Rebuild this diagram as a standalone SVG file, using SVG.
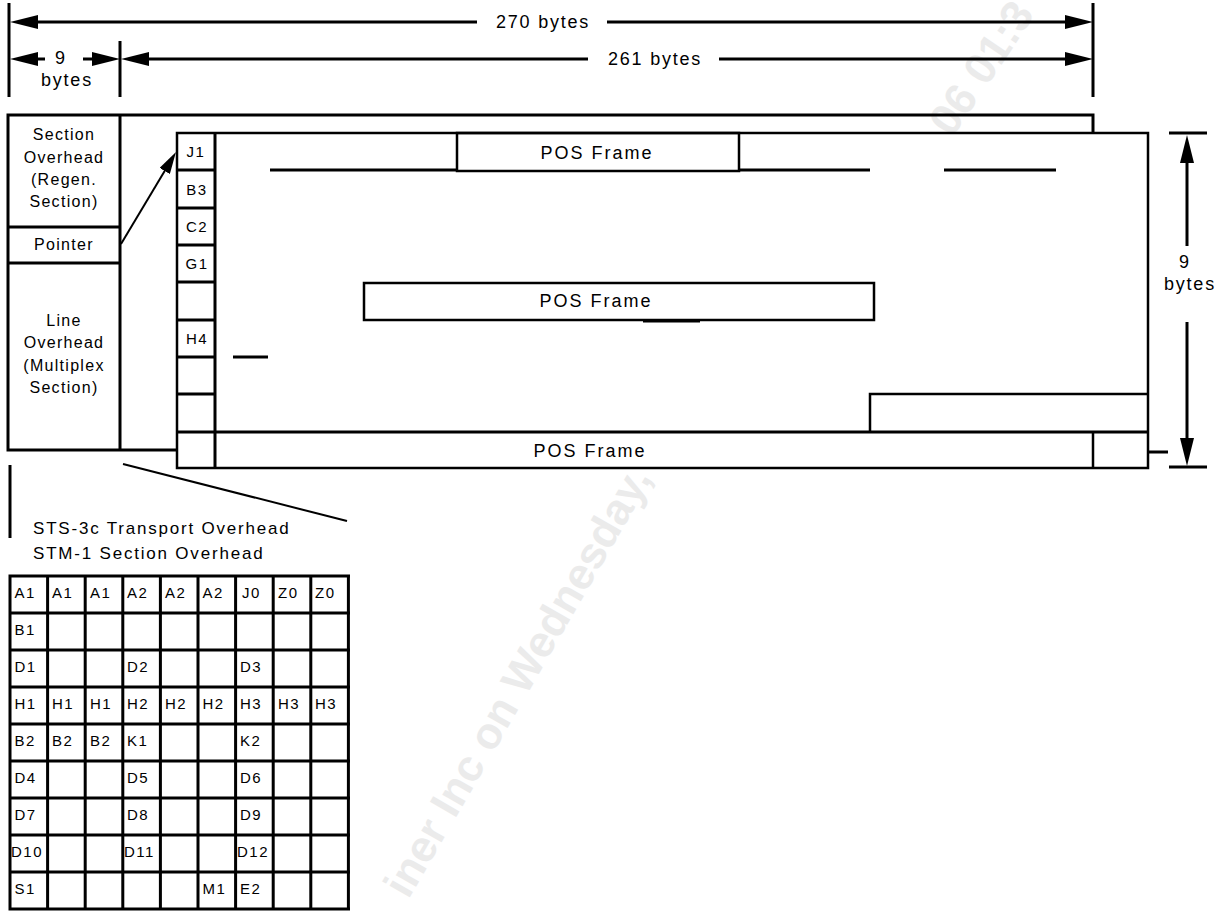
<svg xmlns="http://www.w3.org/2000/svg" width="1227" height="911" viewBox="0 0 1227 911">
<style>
text{font-family:"Liberation Sans",Arial,sans-serif;fill:#000}
.dim{font-size:18px;letter-spacing:1.75px;text-anchor:middle}
.lbl{font-size:16px;letter-spacing:1.3px;text-anchor:middle}
.pos{font-size:18px;letter-spacing:2px;text-anchor:middle}
.cell{font-size:15px;letter-spacing:1.5px}
.jc{font-size:15px;letter-spacing:1.5px;text-anchor:middle}
.cap{font-size:17px;letter-spacing:1.8px}
.wm{font-size:44px;font-weight:bold;fill:#ebebeb}
.thk{stroke:#000;stroke-width:3;fill:none}
.thn{stroke:#000;stroke-width:2.5;fill:none}
.box{stroke:#000;stroke-width:2.5;fill:#fff}
.arr{stroke:#000;stroke-width:3;fill:none;marker-end:url(#ah)}
.arl{stroke:#000;stroke-width:3;fill:none;marker-start:url(#ah)}
</style>
<defs>
<marker id="ah" markerUnits="userSpaceOnUse" markerWidth="28" markerHeight="14" refX="18" refY="7" orient="auto-start-reverse" viewBox="0 0 28 14"><path d="M0,0 L28,7 L0,14 z" fill="#000"/></marker>
<marker id="ahs" markerUnits="userSpaceOnUse" markerWidth="22" markerHeight="12" refX="16" refY="6" orient="auto" viewBox="0 0 22 12"><path d="M0,0 L22,6 L0,12 z" fill="#000"/></marker>
</defs>
<rect width="1227" height="911" fill="#fff"/>
<g id="watermark">
<text class="wm" x="652" y="478" text-anchor="end" transform="rotate(-60 652 478)">iner Inc on Wednesday,</text>
<text class="wm" x="952" y="138" transform="rotate(-56 952 138)">06 01:3</text>
</g>
<g id="dim-270">
<path class="thk" d="M9,3 V97 M1093,3 V97"/>
<path class="arl" d="M20,22 H477"/>
<path class="arr" d="M607,22 H1083"/>
<text class="dim" x="543" y="28">270  bytes</text>
</g>
<g id="dim-261">
<path class="thk" d="M120,41 V97"/>
<path class="arl" d="M131,59 H588"/>
<path class="arr" d="M719,59 H1083"/>
<text class="dim" x="655" y="65">261  bytes</text>
</g>
<g id="dim-9">
<path class="arl" d="M20,59 H45"/>
<path class="arr" d="M83,59 H110"/>
<text class="dim" x="61" y="64">9</text>
<text class="dim" x="67" y="86">bytes</text>
</g>
<g id="transport-overhead">
<rect x="8" y="115" width="1085" height="335" class="thk"/>
<path class="thk" d="M120,115 V450 M8,227 H120 M8,263 H120"/>
<text class="lbl" x="64" y="140">Section</text>
<text class="lbl" x="64" y="163">Overhead</text>
<text class="lbl" x="64" y="185">(Regen.</text>
<text class="lbl" x="64" y="207">Section)</text>
<text class="lbl" x="64" y="250">Pointer</text>
<text class="lbl" x="64" y="326">Line</text>
<text class="lbl" x="64" y="348">Overhead</text>
<text class="lbl" x="64" y="371">(Multiplex</text>
<text class="lbl" x="64" y="393">Section)</text>
</g>
<g id="payload-frame">
<rect x="177" y="133" width="971" height="335" class="box"/>
<path class="thk" d="M215,133 V468 M177,170 H215 M177,208 H215 M177,245 H215 M177,282 H215 M177,320 H215 M177,357 H215 M177,394 H215 M177,432 H1148"/>
<text class="jc" x="196" y="157">J1</text>
<text class="jc" x="197" y="195">B3</text>
<text class="jc" x="197" y="232">C2</text>
<text class="jc" x="197" y="269">G1</text>
<text class="jc" x="197" y="344">H4</text>
</g>
<g id="pos-frame-1">
<path class="thk" d="M270,170 H457 M739,170 H870 M944,170 H1056"/>
<rect x="457" y="133" width="282" height="38" class="thn"/>
<text class="pos" x="597" y="159">POS Frame</text>
</g>
<g id="pos-frame-2">
<rect x="364" y="283" width="510" height="37" class="thn"/>
<path class="thk" d="M643,321 H700 M233,357 H268"/>
<text class="pos" x="596" y="307">POS Frame</text>
</g>
<g id="pos-frame-3">
<path class="thn" d="M870,432 V394 H1148 M1093,432 V468"/>
<text class="pos" x="590" y="457">POS Frame</text>
</g>
<g id="dim-rows">
<path class="thk" d="M1169,133 H1207 M1169,467 H1207 M1148,452 H1168"/>
<path class="arl" d="M1187,145 V246"/>
<path class="arr" d="M1187,322 V456"/>
<text class="dim" x="1185" y="268">9</text>
<text class="dim" x="1190" y="290">bytes</text>
</g>
<g id="connectors">
<path d="M121,244 L172.9,157.2" stroke="#000" stroke-width="2" fill="none" marker-end="url(#ahs)"/>
<path d="M123,464 L347,521" stroke="#000" stroke-width="2" fill="none"/>
<path class="thk" d="M10,465 V538"/>
</g>
<g id="caption">
<text class="cap" x="33" y="534">STS-3c Transport Overhead</text>
<text class="cap" x="33" y="559">STM-1 Section Overhead</text>
</g>
<g id="soh-table">
<path class="thk" d="M8.5,576 H350 M8.5,613 H350 M8.5,650 H350 M8.5,687 H350 M8.5,724 H350 M8.5,761 H350 M8.5,798 H350 M8.5,835 H350 M8.5,872 H350 M8.5,909 H350 M10,574.5 V910.5 M47.6,574.5 V910.5 M85.2,574.5 V910.5 M122.8,574.5 V910.5 M160.4,574.5 V910.5 M198,574.5 V910.5 M235.6,574.5 V910.5 M273.2,574.5 V910.5 M310.8,574.5 V910.5 M348.4,574.5 V910.5"/>
<g class="cell">
<text class="cell" x="14.5" y="598">A1</text><text class="cell" x="52" y="598">A1</text><text class="cell" x="90" y="598">A1</text><text class="cell" x="127" y="598">A2</text><text class="cell" x="165" y="598">A2</text><text class="cell" x="202.5" y="598">A2</text><text class="cell" x="242" y="598">J0</text><text class="cell" x="278" y="598">Z0</text><text class="cell" x="315" y="598">Z0</text>
<text class="cell" x="14.5" y="635">B1</text>
<text class="cell" x="14.5" y="672">D1</text><text class="cell" x="127" y="672">D2</text><text class="cell" x="240" y="672">D3</text>
<text class="cell" x="14.5" y="709">H1</text><text class="cell" x="52" y="709">H1</text><text class="cell" x="90" y="709">H1</text><text class="cell" x="127" y="709">H2</text><text class="cell" x="165" y="709">H2</text><text class="cell" x="202.5" y="709">H2</text><text class="cell" x="240" y="709">H3</text><text class="cell" x="278" y="709">H3</text><text class="cell" x="315" y="709">H3</text>
<text class="cell" x="14.5" y="746">B2</text><text class="cell" x="52" y="746">B2</text><text class="cell" x="90" y="746">B2</text><text class="cell" x="127" y="746">K1</text><text class="cell" x="240" y="746">K2</text>
<text class="cell" x="14.5" y="783">D4</text><text class="cell" x="127" y="783">D5</text><text class="cell" x="240" y="783">D6</text>
<text class="cell" x="14.5" y="820">D7</text><text class="cell" x="127" y="820">D8</text><text class="cell" x="240" y="820">D9</text>
<text class="cell" x="11" y="857">D10</text><text class="cell" x="124" y="857">D11</text><text class="cell" x="237" y="857">D12</text>
<text class="cell" x="14.5" y="894">S1</text><text class="cell" x="202.5" y="894">M1</text><text class="cell" x="240" y="894">E2</text>
</g>
</g>
</svg>
